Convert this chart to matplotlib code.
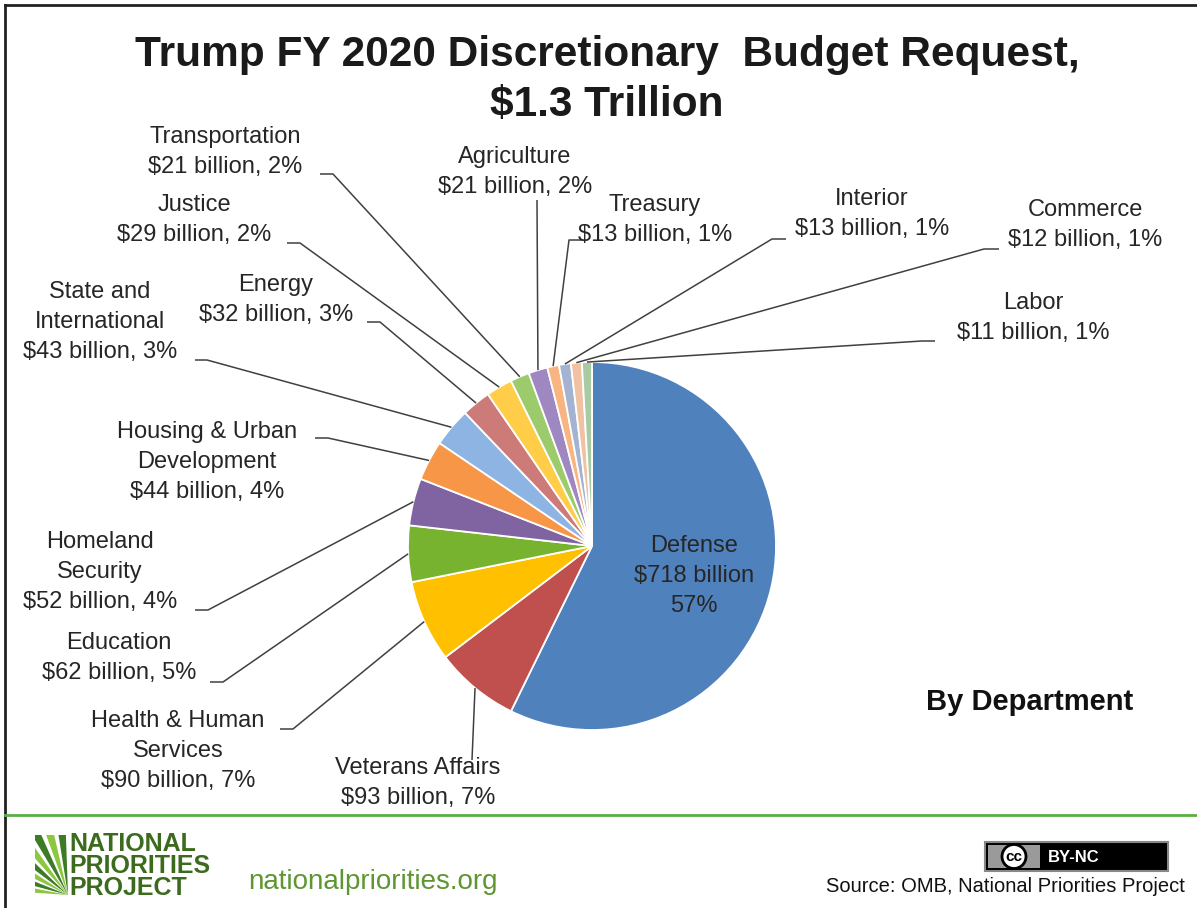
import numpy as np
import matplotlib
matplotlib.use("Agg")
import matplotlib.pyplot as plt
from matplotlib.patches import Wedge, Rectangle, Circle

plt.rcParams['font.family'] = ['Liberation Sans', 'DejaVu Sans']

# Data (billions of dollars), clockwise from 12 o'clock
departments = ['Defense', 'Veterans Affairs', 'Health & Human\nServices', 'Education',
               'Homeland\nSecurity', 'Housing & Urban\nDevelopment', 'State and\nInternational',
               'Energy', 'Justice', 'Transportation', 'Agriculture', 'Treasury',
               'Interior', 'Commerce', 'Labor']
amounts = [718, 93, 90, 62, 52, 44, 43, 32, 29, 21, 21, 13, 13, 12, 11]
colors = ['#4F81BD', '#C0504D', '#FFC000', '#77B32F', '#8064A2', '#F79646', '#8EB4E3',
          '#CC7B79', '#FFCD48', '#9CCB6C', '#9F87C2', '#F9B581', '#A3B3D1', '#F0C1A2', '#A9CBA4']

W, H = 1197, 908


def Y(y):
    return H - y


# label layout in pixel coords: text centre, leader points (text side first)
layout = {
    'Veterans Affairs': ((418, 783), [(472, 760)]),
    'Health & Human\nServices': ((178, 751), [(280, 729), (293, 729)]),
    'Education': ((119, 658), [(210, 682), (223, 682)]),
    'Homeland\nSecurity': ((100, 572), [(195, 610), (208, 610)]),
    'Housing & Urban\nDevelopment': ((207, 462), [(315, 438), (328, 438)]),
    'State and\nInternational': ((100, 322), [(195, 360), (207, 360)]),
    'Energy': ((276, 300), [(367, 322), (380, 322)]),
    'Justice': ((194, 220), [(287, 243), (300, 243)]),
    'Transportation': ((225, 152), [(320, 174), (333, 174)]),
    'Agriculture': ((515, 172), [(537, 200)]),
    'Treasury': ((655, 220), [(582, 240), (569, 240)]),
    'Interior': ((872, 214), [(786, 239), (772, 239)]),
    'Commerce': ((1085, 225), [(999, 249), (984, 249)]),
    'Labor': ((1033, 318), [(935, 341), (922, 341)]),
}

fig = plt.figure(figsize=(W / 100, H / 100), dpi=100)
ax = fig.add_axes([0, 0, 1, 1])

cx, cy, r = 592, 546, 184
wedges, _ = ax.pie(amounts, colors=colors, startangle=90, counterclock=False,
                   center=(cx, Y(cy)), radius=r,
                   wedgeprops=dict(edgecolor='white', linewidth=1.3))
ax.set_xlim(0, W)
ax.set_ylim(0, H)
ax.set_aspect('auto')
ax.axis('off')

total = sum(amounts)
for name, val, w in zip(departments, amounts, wedges):
    pct = round(val / total * 100)
    txt = f"{name}\n${val} billion, {pct}%"
    if name == 'Defense':
        ax.text(694, Y(576), f"{name}\n${val} billion\n{pct}%", ha='center', va='center',
                fontsize=17, color='#262626', linespacing=1.46)
        continue
    (tx, ty), pts = layout[name]
    ax.text(tx, Y(ty), txt, ha='center', va='center', fontsize=17, color='#262626',
            linespacing=1.46, multialignment='center')
    ang = np.deg2rad((w.theta1 + w.theta2) / 2)
    ex, ey = cx + r * np.cos(ang), Y(cy) + r * np.sin(ang)
    xs = [p[0] for p in pts] + [ex]
    ys = [Y(p[1]) for p in pts] + [ey]
    ax.plot(xs, ys, color='#404040', lw=1.1, solid_capstyle='butt')

# title
ax.text(607, Y(80), "Trump FY 2020 Discretionary  Budget Request,\n$1.3 Trillion",
        ha='center', va='center', fontsize=30.5, fontweight='bold', color='#1a1a1a',
        linespacing=1.3)
ax.text(1030, Y(702), "By Department", ha='center', va='center', fontsize=21,
        fontweight='bold', color='#111111')

# frame and footer
ax.plot([5, 5], [0, Y(5)], color='#222222', lw=2)
ax.plot([5, W], [Y(5), Y(5)], color='#222222', lw=2)
ax.plot([5, W], [Y(815), Y(815)], color='#5BAF45', lw=2)

# logo stripes, clipped to a small box
clip = Rectangle((35, Y(895)), 33, 60, transform=ax.transData)
for i, a0 in enumerate(range(92, 180, 11)):
    p = Wedge((68, Y(895)), 80, a0, a0 + 7,
              color='#3E7B27' if i % 2 == 0 else '#8DC63F', lw=0)
    ax.add_patch(p)
    p.set_clip_path(clip)
ax.text(69, Y(866), "NATIONAL\nPRIORITIES\nPROJECT", ha='left', va='center', fontsize=18,
        fontweight='heavy', color='#3D6B1E', linespacing=0.88)
ax.text(248, Y(882), "nationalpriorities.org", ha='left', va='center', fontsize=20,
        color='#5E9732')

# CC badge
ax.add_patch(Rectangle((985, Y(871)), 183, 29, facecolor='black', edgecolor='#888888', lw=1.5))
ax.add_patch(Rectangle((988, Y(868)), 52, 23, facecolor='#9A9A9A', lw=0))
ax.add_patch(Circle((1014, Y(856.5)), 12, facecolor='white', edgecolor='black', lw=2))
ax.text(1014, Y(857), "cc", ha='center', va='center', fontsize=11, fontweight='bold')
ax.text(1048, Y(857), "BY-NC", ha='left', va='center', fontsize=12, fontweight='bold',
        color='white')
ax.text(1185, Y(887), "Source: OMB, National Priorities Project", ha='right', va='center',
        fontsize=14.5, color='#111111')

fig.savefig('out.png', dpi=100)
